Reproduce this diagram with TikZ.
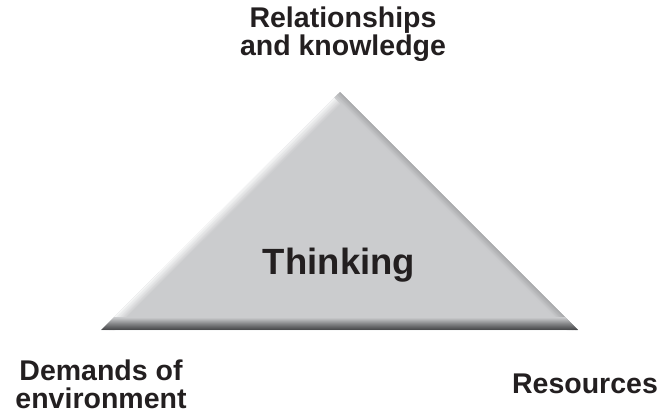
\documentclass[tikz,border=0pt]{standalone}
\usepackage{fontspec}
\setmainfont{Liberation Sans}
\usetikzlibrary{calc}
\definecolor{triface}{HTML}{CBCCCE}
\definecolor{tridark}{HTML}{4C4D4F}
\definecolor{trishade}{HTML}{A9AAAC}
\definecolor{txt}{HTML}{231F20}
\begin{document}
\begin{tikzpicture}[x=1pt,y=-1pt,
  lbl/.style={font=\bfseries\fontsize{28.5}{28}\selectfont, text=txt, align=center, inner sep=0pt},
  mainlbl/.style={font=\bfseries\fontsize{36.5}{40}\selectfont, text=txt, inner sep=0pt}]
\useasboundingbox (0,0) rectangle (660,415);
\coordinate (A) at (340,92);
\coordinate (B) at (101,330);
\coordinate (C) at (578,330);
\begin{scope}
  \clip (A) -- (B) -- (C) -- cycle;
  \fill[triface] (A) -- (B) -- (C) -- cycle;
  % left bevel: light
  \foreach \k in {0,...,9} {
    \pgfmathsetmacro{\m}{min(100,15+\k*9.5)}
    \pgfmathsetmacro{\s}{(\k+0.5)*0.7071}
    \draw[line width=1.2pt, color=triface!\m!white]
      ($(B)!-0.1!(A)+(\s,\s)$) -- ($(A)!-0.1!(B)+(\s,\s)$);
  }
  % right bevel: slightly darker
  \foreach \k in {0,...,7} {
    \pgfmathsetmacro{\m}{min(100,\k*14)}
    \pgfmathsetmacro{\s}{(\k+0.5)*0.7071}
    \draw[line width=1.2pt, color=triface!\m!trishade]
      ($(C)!-0.1!(A)+(-\s,\s)$) -- ($(A)!-0.1!(C)+(-\s,\s)$);
  }
  % bottom bevel: dark band
  \foreach \k in {0,...,12} {
    \pgfmathsetmacro{\m}{\k<6 ? 8*\k : min(100,40+(\k-5)*9)}
    \draw[line width=1.2pt, color=triface!\m!tridark]
      (0,{330-\k-0.5}) -- (660,{330-\k-0.5});
  }
\end{scope}
\node[mainlbl] (think) at (339,265) {Thinking};
\node[lbl] (rel) at (343,34) {Relationships\\and knowledge};
\node[lbl] (dem) at (101,384) {Demands of\\environment};
\node[lbl] (res) at (585,384) {Resources};
\end{tikzpicture}
\end{document}
